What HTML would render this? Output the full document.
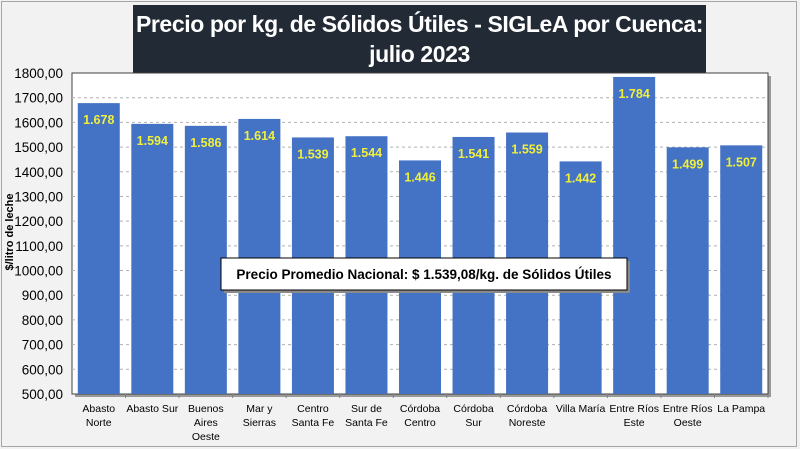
<!DOCTYPE html>
<html><head><meta charset="utf-8"><style>
html,body{margin:0;padding:0;}
body{width:800px;height:449px;background:#f2f2f2;position:relative;overflow:hidden;font-family:"Liberation Sans",sans-serif;}
#frame{position:absolute;left:1px;top:1px;width:796px;height:446px;border:1px solid #a6a6a6;box-sizing:border-box;}
#title{position:absolute;left:133px;top:5px;width:573px;height:68px;background:#222a35;color:#fff;font-weight:bold;font-size:23px;text-align:center;line-height:30px;padding-top:4px;box-sizing:border-box;letter-spacing:-0.4px;}
svg{position:absolute;left:0;top:0;}
</style></head><body>
<div id="frame"></div>
<div id="title">Precio por kg. de Sólidos Útiles - SIGLeA por Cuenca:<br>julio 2023</div>
<svg id="chart" width="800" height="449"></svg>
<script>
const categories=[["Abasto","Norte"],["Abasto Sur"],["Buenos","Aires","Oeste"],["Mar y","Sierras"],["Centro","Santa Fe"],["Sur de","Santa Fe"],["Córdoba","Centro"],["Córdoba","Sur"],["Córdoba","Noreste"],["Villa María"],["Entre Ríos","Este"],["Entre Ríos","Oeste"],["La Pampa"]];
const values=[1678,1594,1586,1614,1539,1544,1446,1541,1559,1442,1784,1499,1507];
const valueLabels=["1.678","1.594","1.586","1.614","1.539","1.544","1.446","1.541","1.559","1.442","1.784","1.499","1.507"];
const yTicks=[500,600,700,800,900,1000,1100,1200,1300,1400,1500,1600,1700,1800];
const yTickLabels=["500,00","600,00","700,00","800,00","900,00","1000,00","1100,00","1200,00","1300,00","1400,00","1500,00","1600,00","1700,00","1800,00"];
const NS="http://www.w3.org/2000/svg";
const svg=document.getElementById('chart');
const L=72,R=768,T=73,B=394,yMin=500,yMax=1800;
const y=v=>B-(v-yMin)/(yMax-yMin)*(B-T);
const step=(R-L)/categories.length;
const x=i=>L+step*(i+0.5);
function mk(tag,attrs,text){const e=document.createElementNS(NS,tag);for(const k in attrs)e.setAttribute(k,attrs[k]);if(text!==undefined)e.textContent=text;svg.appendChild(e);return e;}
let sh=mk('rect',{x:L+3,y:T+3,width:R-L,height:B-T,fill:'#9a9a9a'});


let pa=mk('rect',{x:L,y:T,width:R-L,height:B-T,fill:'#fff',stroke:'#404040','stroke-width':1});


yTicks.forEach((t,i)=>{
  if(t>yMin&&t<yMax){let g=mk('line',{x1:L,x2:R,y1:y(t),y2:y(t),stroke:'#b0b0b0','stroke-dasharray':'3,3'});
  
  }
  let tl=mk('text',{x:63,y:y(t)+5,'text-anchor':'end','font-size':13.5,fill:'#000'},yTickLabels[i]);
  
  
});
values.forEach((v,i)=>{
  let b=mk('rect',{x:x(i)-21,y:y(v),width:42,height:B-y(v),fill:'#4472c4'});
  
  
  let vl=mk('text',{x:x(i),y:y(v)+21,'text-anchor':'middle','font-size':12.5,'font-weight':'bold',fill:'#f0f03c'},valueLabels[i]);
  
  
  categories[i].forEach((ln,j)=>{
    let cl=mk('text',{x:x(i),y:412+j*14,'text-anchor':'middle','font-size':10.5,fill:'#000'},ln);
    
    
  });
  let tk=mk('line',{x1:L+step*(i+1),x2:L+step*(i+1),y1:B,y2:B+4,stroke:'#808080'});
  
  
});
let yt=mk('text',{x:0,y:0,transform:'translate(13,232) rotate(-90)','text-anchor':'middle','font-size':11,'font-weight':'bold',fill:'#000'},'$/litro de leche');


let bs=mk('rect',{x:224,y:261,width:406,height:32,fill:'#8a8a8a'});


let bx=mk('rect',{x:221,y:258,width:406,height:32,fill:'#fff',stroke:'#000','stroke-width':1});


let bt=mk('text',{x:424,y:279,'text-anchor':'middle','font-size':13.5,'font-weight':'bold',fill:'#000'},'Precio Promedio Nacional: $ 1.539,08/kg. de Sólidos Útiles');


</script>
</body></html>
